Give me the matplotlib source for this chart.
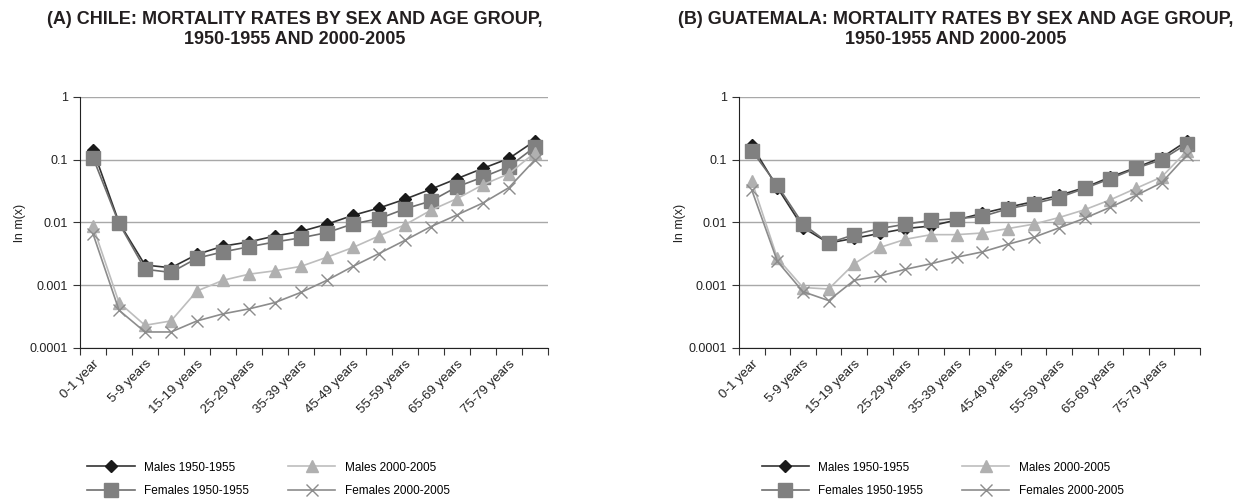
import numpy as np
import matplotlib
matplotlib.use('Agg')
from matplotlib import pyplot as plt

plt.rcParams['font.family'] = ['Liberation Sans', 'DejaVu Sans']

ages = ['0-1 year', '1-4 years', '5-9 years', '10-14 years', '15-19 years', '20-24 years',
        '25-29 years', '30-34 years', '35-39 years', '40-44 years', '45-49 years',
        '50-54 years', '55-59 years', '60-64 years', '65-69 years', '70-74 years',
        '75-79 years', '80+ years']

# Chile
chile_m50 = [0.145, 0.0100, 0.0021, 0.0019, 0.0031, 0.0042, 0.0049, 0.0061, 0.0072, 0.0094,
             0.0130, 0.0170, 0.0235, 0.034, 0.050, 0.073, 0.105, 0.20]
chile_f50 = [0.108, 0.0097, 0.0018, 0.0016, 0.0027, 0.0034, 0.0041, 0.0049, 0.0057, 0.0069,
             0.0095, 0.0115, 0.0165, 0.022, 0.037, 0.053, 0.078, 0.16]
chile_m00 = [0.0087, 0.00053, 0.00023, 0.00027, 0.00081, 0.0012, 0.0015, 0.0017, 0.0020, 0.0028,
             0.0040, 0.0061, 0.0092, 0.0157, 0.024, 0.040, 0.060, 0.13]
chile_f00 = [0.0066, 0.00040, 0.00018, 0.00018, 0.00027, 0.00035, 0.00042, 0.00053, 0.00077, 0.0012,
             0.0020, 0.0032, 0.0052, 0.0086, 0.0132, 0.0205, 0.036, 0.10]

# Guatemala
guat_m50 = [0.17, 0.036, 0.0083, 0.0047, 0.0056, 0.0067, 0.0080, 0.0088, 0.0110, 0.0140,
            0.0175, 0.0215, 0.027, 0.036, 0.053, 0.075, 0.108, 0.20]
guat_f50 = [0.14, 0.039, 0.0094, 0.0047, 0.0064, 0.0080, 0.0094, 0.0108, 0.0115, 0.0125,
            0.0165, 0.020, 0.025, 0.035, 0.050, 0.073, 0.100, 0.18]
guat_m00 = [0.046, 0.0027, 0.00092, 0.00087, 0.0022, 0.0040, 0.0054, 0.0064, 0.0064, 0.0068,
            0.0080, 0.0094, 0.0120, 0.016, 0.023, 0.035, 0.053, 0.14]
guat_f00 = [0.033, 0.0024, 0.00079, 0.00057, 0.0012, 0.0014, 0.0018, 0.0022, 0.0028, 0.0034,
            0.0045, 0.0058, 0.0082, 0.0117, 0.0175, 0.027, 0.043, 0.12]

labels = ['Males 1950-1955', 'Females 1950-1955', 'Males 2000-2005', 'Females 2000-2005']
styles = [dict(color='#333333', marker='D', ms=6.5, mfc='#1a1a1a', mec='#1a1a1a', lw=1.2),
          dict(color='#6e6e6e', marker='s', ms=9.5, mfc='#808080', mec='#808080', lw=1.2),
          dict(color='#bdbdbd', marker='^', ms=8, mfc='#b0b0b0', mec='#b0b0b0', lw=1.2),
          dict(color='#8c8c8c', marker='x', ms=9, mfc='none', mec='#8c8c8c', mew=1.0, lw=1.2)]

titles = ['(A) CHILE: MORTALITY RATES BY SEX AND AGE GROUP,\n1950-1955 AND 2000-2005',
          '(B) GUATEMALA: MORTALITY RATES BY SEX AND AGE GROUP,\n1950-1955 AND 2000-2005']

fig = plt.figure(figsize=(12.58, 5.01), dpi=100)
axes = [fig.add_axes([0.0636, 0.3054, 0.372, 0.501]),
        fig.add_axes([0.5874, 0.3054, 0.3665, 0.501])]
data = [[chile_m50, chile_f50, chile_m00, chile_f00],
        [guat_m50, guat_f50, guat_m00, guat_f00]]
leg_x = [0.061, 0.597]
title_x = [0.234, 0.760]

x = np.arange(len(ages))
for k, ax in enumerate(axes):
    for vals, st, lab in zip(data[k], styles, labels):
        ax.plot(x, vals, label=lab, **st)
    ax.set_yscale('log')
    ax.set_ylim(1e-4, 1)
    ax.set_xlim(-0.5, len(ages) - 0.5)
    ax.set_yticks([1e-4, 1e-3, 1e-2, 1e-1, 1])
    ax.set_yticklabels(['0.0001', '0.001', '0.01', '0.1', '1'])
    ax.yaxis.set_minor_locator(matplotlib.ticker.NullLocator())
    ax.grid(axis='y', color='#a8a8a8', lw=1)
    ax.set_axisbelow(True)
    ax.set_xticks(np.arange(-0.5, len(ages)), labels=[])
    ax.set_xticks(x[::2][:9], labels=ages[::2][:9], minor=True)
    ax.tick_params(axis='x', which='major', length=5, color='#333333')
    ax.tick_params(axis='x', which='minor', length=0, labelsize=9.5, pad=7)
    plt.setp(ax.get_xticklabels(minor=True), rotation=45, ha='right', rotation_mode='anchor',
             color='#222222')
    ax.tick_params(axis='y', length=5, labelsize=9, color='#333333', labelcolor='#222222')
    for s in ['top', 'right']:
        ax.spines[s].set_visible(False)
    for s in ['left', 'bottom']:
        ax.spines[s].set_color('#222222')
    ax.set_ylabel('ln m(x)', fontsize=9, color='#222222')
    ax.yaxis.set_label_coords(-0.115, 0.5)
    fig.text(title_x[k], 0.978, titles[k], ha='center', va='top', fontsize=13,
             fontweight='bold', color='#231f20', linespacing=1.2)
    ax.legend(loc='upper left', bbox_to_anchor=(leg_x[k], 0.10), bbox_transform=fig.transFigure,
              ncol=2, frameon=False, fontsize=8.5, handlelength=4.0, columnspacing=3.3,
              labelspacing=0.95, handletextpad=0.8)

fig.savefig('out.png', dpi=100)
